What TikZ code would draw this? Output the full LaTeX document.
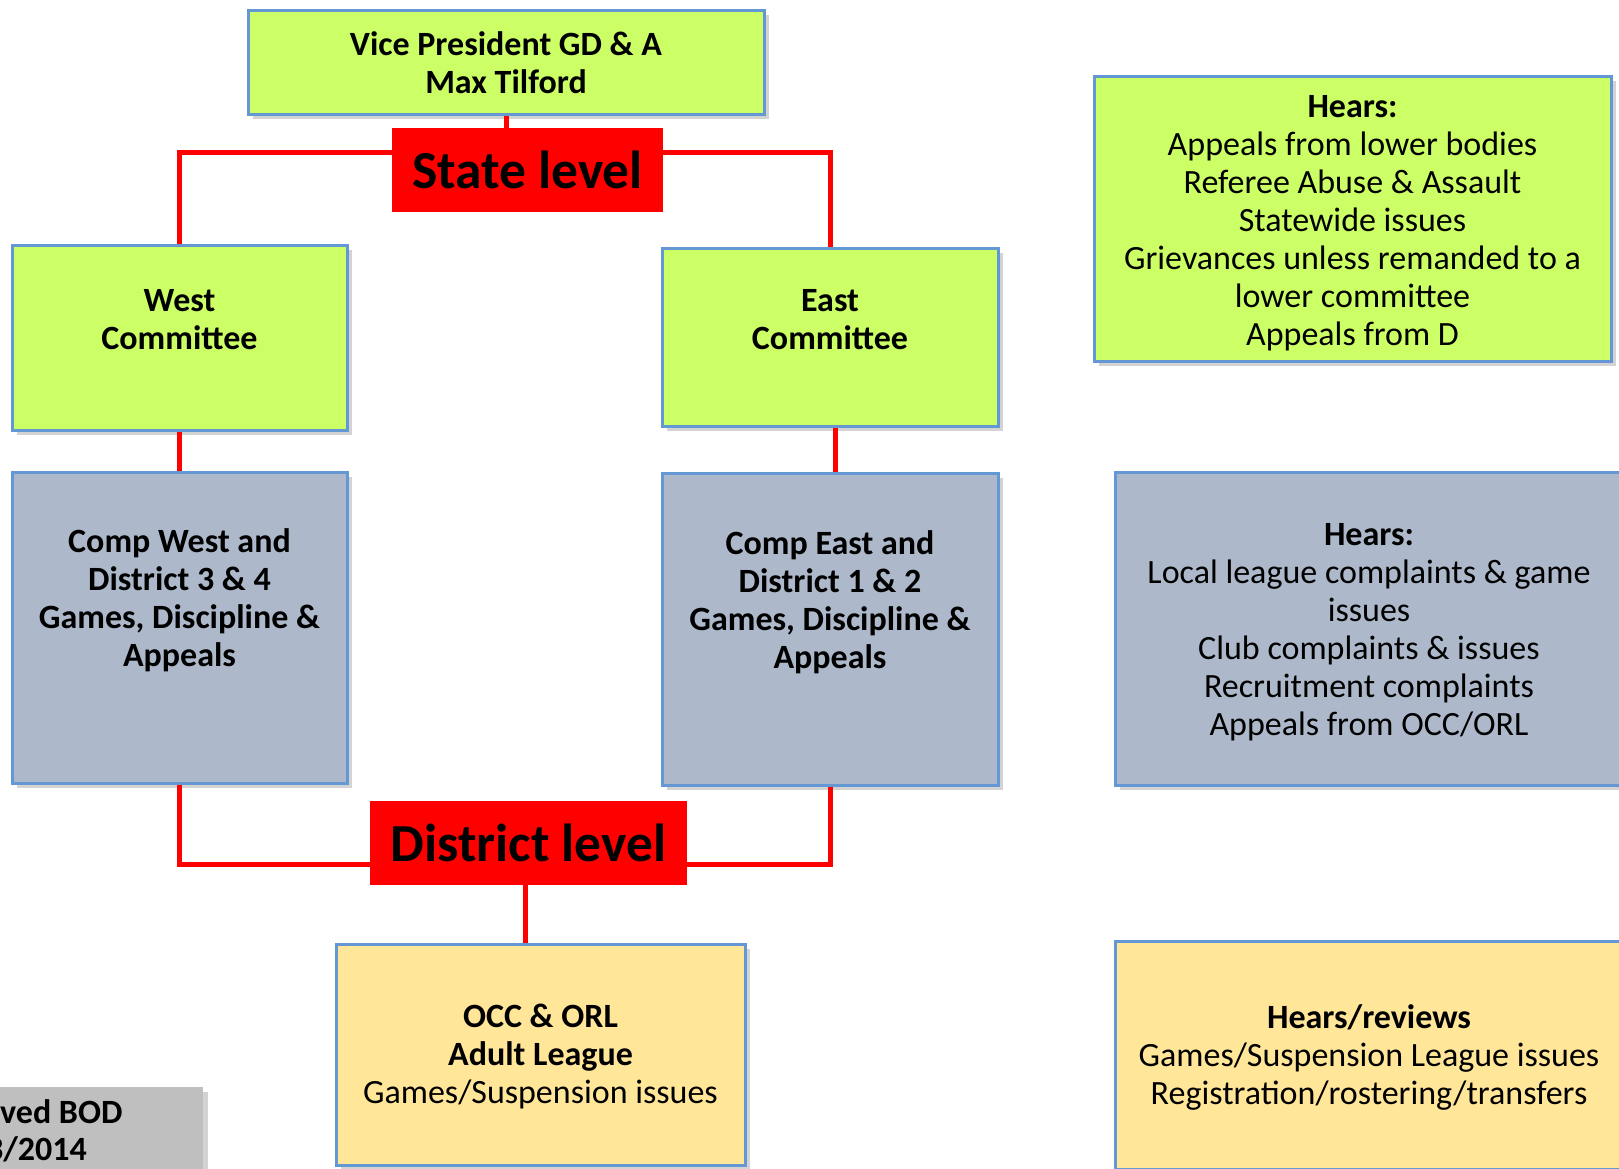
\documentclass[tikz,border=0pt]{standalone}
\usepackage{fontspec}
\setmainfont{Carlito}
\usetikzlibrary{positioning, shadows}
\definecolor{boxgreen}{RGB}{204,255,102}
\definecolor{boxgrey}{RGB}{173,185,202}
\definecolor{boxyellow}{RGB}{255,230,153}
\definecolor{boxedge}{RGB}{100,152,212}
\definecolor{bodgrey}{RGB}{191,191,191}

\begin{document}
\begin{tikzpicture}[x=1pt, y=-1pt,
		every node/.style={font=\fontsize{34}{38}\selectfont, align=center, inner sep=0pt},
		bold/.style={font=\fontsize{34}{38}\selectfont\bfseries},
		box/.style={rectangle, draw=boxedge, line width=3pt,
			drop shadow={shadow xshift=5pt, shadow yshift=-5pt, opacity=0.35}},
		greenbox/.style={box, fill=boxgreen},
		greybox/.style={box, fill=boxgrey},
		yellowbox/.style={box, fill=boxyellow},
		levelbox/.style={fill=red, font=\fontsize{53.5}{60}\selectfont\bfseries},
		redline/.style={draw=red, line width=5pt}]
	\useasboundingbox (0,0) rectangle (1619,1168);

	% state level
	\node[greenbox, minimum width=516pt, minimum height=104pt] (vp) at (506,62) {};
	\node[bold, yshift=-1pt] (vptext) at (vp.center) {Vice President GD \& A\\Max Tilford};
	\node[levelbox, minimum width=271pt, minimum height=84pt] (state) at (527.5,170) {State level};

	\node[greenbox, minimum width=335pt, minimum height=185pt] (west) at (179.5,337.5) {};
	\node[bold, below=46pt of west.north] (westtext) {West\\Committee};
	\node[greenbox, minimum width=336pt, minimum height=178pt] (east) at (830,337) {};
	\node[bold, below=43pt of east.north] (easttext) {East\\Committee};

	% district level
	\node[greybox, minimum width=335pt, minimum height=311pt] (compw) at (179.5,627.5) {};
	\node[bold, below=57.5pt of compw.north] (compwtext) {Comp West and\\District 3 \& 4\\Games, Discipline \&\\Appeals};
	\node[greybox, minimum width=336pt, minimum height=312pt] (compe) at (830,629) {};
	\node[bold, below=58.5pt of compe.north] (competext) {Comp East and\\District 1 \& 2\\Games, Discipline \&\\Appeals};

	\node[levelbox, minimum width=317pt, minimum height=84pt] (district) at (528.5,843) {District level};
	\node[yellowbox, minimum width=409pt, minimum height=221pt] (occ) at (540.5,1054.5) {};
	\node[yshift=-2pt] (occtext) at (occ.center) {\textbf{OCC \& ORL}\\\textbf{Adult League}\\Games/Suspension issues};

	% what each level hears
	\node[greenbox, minimum width=517pt, minimum height=285pt] (hearsstate) at (1352.5,218.5) {};
	\node[yshift=-4.5pt] (hearsstatetext) at (hearsstate.center) {\textbf{Hears:}\\Appeals from lower bodies\\Referee Abuse \& Assault\\Statewide issues\\Grievances unless remanded to a\\lower committee\\Appeals from D};
	\node[greybox, minimum width=508pt, minimum height=313pt] (hearsdist) at (1369,628.5) {};
	\node[yshift=-3.5pt] (hearsdisttext) at (hearsdist.center) {\textbf{Hears:}\\Local league complaints \& game\\issues\\Club complaints \& issues\\Recruitment complaints\\Appeals from OCC/ORL};
	\node[yellowbox, minimum width=508pt, minimum height=228pt] (hearsleague) at (1369,1055) {};
	\node[yshift=-2.5pt] (hearsleaguetext) at (hearsleague.center) {\textbf{Hears/reviews}\\Games/Suspension League issues\\Registration/rostering/transfers};

	\node[fill=bodgrey, minimum width=223pt, minimum height=103pt,
		drop shadow={shadow xshift=5pt, shadow yshift=-5pt, opacity=0.35}] (bod) at (91.5,1138.5) {};
	\node[bold, anchor=base west] (bodtop) at (0,1123) {ved BOD};
	\node[bold, anchor=base east] (bodbottom) at (87,1160) {3/2014};

	% connectors
	\coordinate (statebar) at (0,152);
	\coordinate (districtbar) at (0,864);
	\draw[redline] (vp.south) -- (vp.south |- state.north);
	\draw[redline] (state.west |- statebar) -| (west.north);
	\draw[redline] (state.east |- statebar) -| (east.north);
	\draw[redline] (west.south) -- (compw.north);
	\draw[redline] ([xshift=5pt]east.south) -- ([xshift=5pt]east.south |- compe.north);
	\draw[redline] (compw.south) |- (district.west |- districtbar);
	\draw[redline] (compe.south) |- (district.east |- districtbar);
	\draw[redline] ([xshift=-3pt]district.south) -- ([xshift=-3pt]district.south |- occ.north);
\end{tikzpicture}
\end{document}
